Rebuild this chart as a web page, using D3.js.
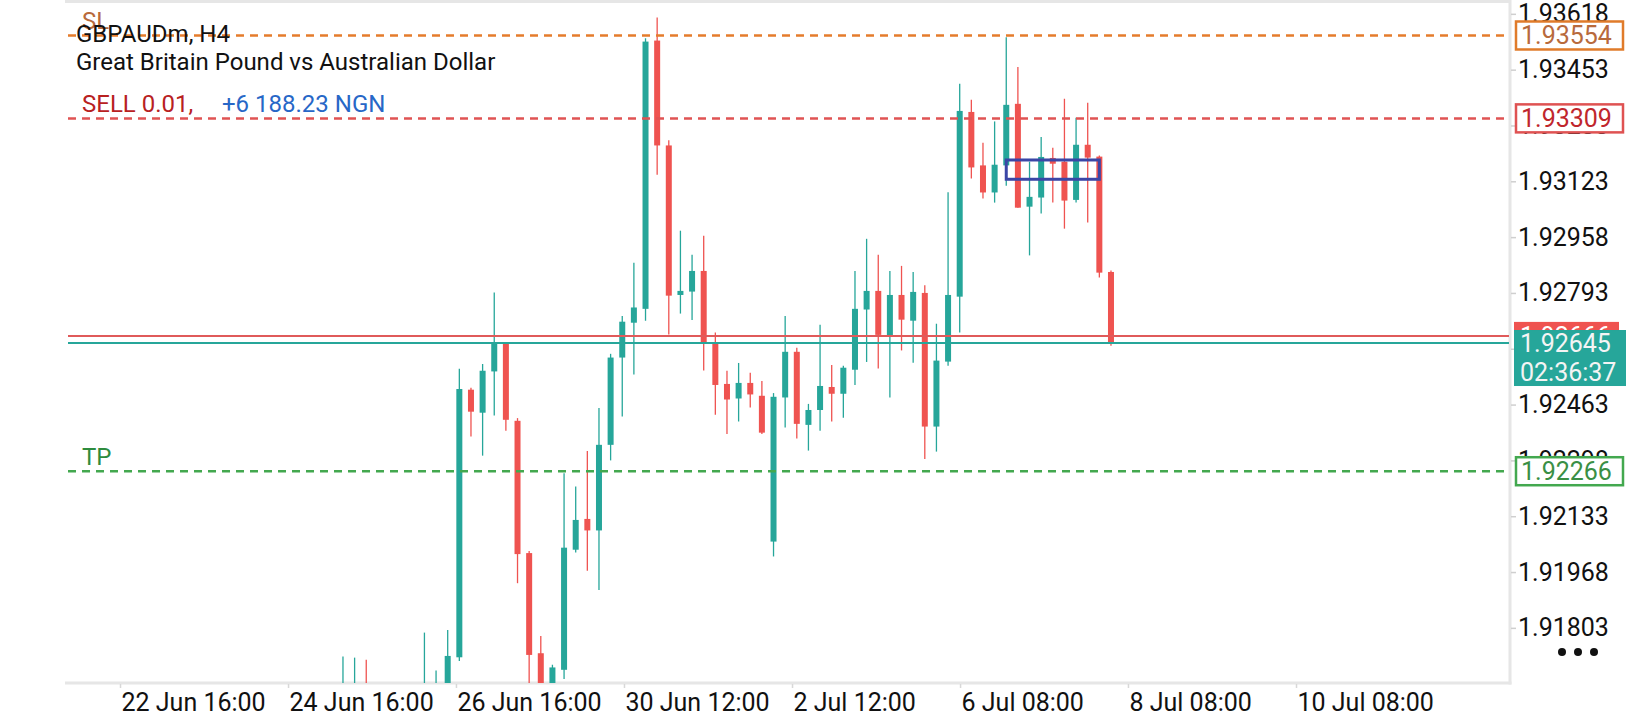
<!DOCTYPE html>
<html><head><meta charset="utf-8">
<script src="https://cdnjs.cloudflare.com/ajax/libs/d3/7.8.5/d3.min.js"></script>
<style>html,body{margin:0;padding:0;background:#fff;}svg{display:block;font-family:Roboto,"Noto Sans",sans-serif;}</style>
</head><body>
<svg id="chart" width="1640" height="720"></svg>
<script>
// ---- data (H4 bars, index = bar number from first visible bar; null = bar fully below view) ----
const barOpen  = [1.91520,1.91560,1.91610,null,null,null,null,1.91450,1.91560,1.91580,
  1.91716,1.92507,1.92439,1.92561,1.92643,1.92415,1.92024,1.91728,1.91600,1.91679,
  1.92034,1.92125,1.92091,1.92344,1.92602,1.92705,1.92746,1.93539,1.93229,1.92787,
  1.92797,1.92858,1.92643,1.92524,1.92481,1.92527,1.92489,1.92058,1.92484,1.92619,
  1.92403,1.92447,1.92515,1.92495,1.92566,1.92744,1.92799,1.92666,1.92787,1.92711,
  1.92793,1.92398,1.92590,1.92782,1.93328,1.93170,1.93090,1.93170,1.93352,1.93048,
  1.93075,1.93192,1.93181,1.93068,1.93231,1.93196,1.92855];
const barHigh  = [1.91718,1.91715,1.91709,null,null,null,null,1.91789,1.91677,1.91797,
  1.92569,1.92513,1.92583,1.92794,1.92648,1.92423,1.92030,1.91779,1.91694,1.92260,
  1.92221,1.92326,1.92453,1.92613,1.92725,1.92882,1.93546,1.93607,1.93244,1.92977,
  1.92906,1.92962,1.92676,1.92563,1.92586,1.92557,1.92533,1.92497,1.92725,1.92631,
  1.92465,1.92699,1.92580,1.92578,1.92858,1.92953,1.92906,1.92858,1.92873,1.92855,
  1.92816,1.92702,1.93091,1.93411,1.93364,1.93237,1.93300,1.93549,1.93461,1.93181,
  1.93254,1.93222,1.93367,1.93311,1.93355,1.93199,1.92859];
const barLow   = [1.91480,1.91500,1.91490,null,null,null,null,1.91400,1.91500,1.91540,
  1.91705,1.92369,1.92312,1.92431,1.92386,1.91935,1.91600,1.91550,1.91580,1.91652,
  1.92026,1.91972,1.91915,1.92298,1.92428,1.92552,1.92711,1.93142,1.92670,1.92732,
  1.92713,1.92564,1.92433,1.92376,1.92413,1.92454,1.92376,1.92014,1.92395,1.92363,
  1.92327,1.92386,1.92413,1.92424,1.92521,1.92589,1.92570,1.92484,1.92623,1.92587,
  1.92302,1.92324,1.92578,1.92676,1.93131,1.93072,1.93060,1.93110,1.93045,1.92904,
  1.93028,1.93060,1.92983,1.93060,1.93001,1.92839,1.92637];
const barClose = [1.91610,1.91620,1.91540,null,null,null,null,1.91600,1.91620,1.91720,
  1.92509,1.92442,1.92563,1.92643,1.92418,1.92021,1.91723,1.91600,1.91686,1.92040,
  1.92122,1.92091,1.92344,1.92602,1.92708,1.92750,1.93536,1.93229,1.92785,1.92799,
  1.92858,1.92643,1.92521,1.92478,1.92527,1.92493,1.92380,1.92486,1.92619,1.92406,
  1.92447,1.92518,1.92495,1.92572,1.92746,1.92799,1.92669,1.92787,1.92714,1.92796,
  1.92398,1.92593,1.92787,1.93331,1.93164,1.93090,1.93172,1.93349,1.93045,1.93077,
  1.93195,1.93175,1.93066,1.93231,1.93193,1.92853,1.92645];

const yTickValues = [1.93618,1.93453,1.93288,1.93123,1.92958,1.92793,1.92628,1.92463,1.92298,1.92133,1.91968,1.91803];
const xTickLabels = ["22 Jun 16:00","24 Jun 16:00","26 Jun 16:00","30 Jun 12:00","2 Jul 12:00","6 Jul 08:00","8 Jul 08:00","10 Jul 08:00"];
const xTickBars   = [-19.16,-4.72,9.71,24.15,38.59,53.03,67.46,81.90];

const slPrice = 1.93554, entryPrice = 1.93309, tpPrice = 1.92266;
const askPrice = 1.92666, bidPrice = 1.92645, countdown = "02:36:37";
const rectBars = [57, 65], rectPrices = [1.93186, 1.93129];
const titleText = ["GBPAUDm, H4", "Great Britain Pound vs Australian Dollar"];
const orderText = ["SELL 0.01,", "+6 188.23 NGN"];

// ---- layout ----
const L = 68, R = 1510, T = 2, B = 683;
const svg = d3.select("#chart");
const x = d3.scaleLinear().domain([-23.63, 100.29]).range([L, R]);
const y = d3.scaleLinear().domain([1.91640, 1.93653]).range([B, T]);
const UP = "#26a69a", DN = "#ef5350";
const AX = 25;

svg.append("defs").append("clipPath").attr("id","plotclip")
  .append("rect").attr("x",L).attr("y",T).attr("width",R-L).attr("height",B-T);

// border
svg.append("line").attr("x1",L-3).attr("x2",R+1).attr("y1",1.5).attr("y2",1.5).attr("stroke","#e6e6e6").attr("stroke-width",3);
svg.append("line").attr("x1",R).attr("x2",R).attr("y1",0).attr("y2",B+1.5).attr("stroke","#e6e6e6").attr("stroke-width",3);
svg.append("line").attr("x1",L-3).attr("x2",R+1.5).attr("y1",B).attr("y2",B).attr("stroke","#e6e6e6").attr("stroke-width",3);

const plot = svg.append("g").attr("clip-path","url(#plotclip)");

// candles
const bars = d3.range(barOpen.length).filter(i => barOpen[i] !== null).map(i => ({
  i, o: barOpen[i], h: barHigh[i], l: barLow[i], c: barClose[i]
}));
const cg = plot.selectAll("g.candle").data(bars).join("g")
  .attr("fill", d => d.c >= d.o ? UP : DN).attr("stroke", d => d.c >= d.o ? UP : DN);
cg.append("line").attr("x1", d => x(d.i)).attr("x2", d => x(d.i))
  .attr("y1", d => y(d.h)).attr("y2", d => y(d.l)).attr("stroke-width", 1.3);
cg.append("rect").attr("stroke","none")
  .attr("x", d => x(d.i) - 3).attr("width", 6)
  .attr("y", d => y(Math.max(d.o, d.c)))
  .attr("height", d => Math.max(1.5, Math.abs(y(d.o) - y(d.c))));

// rectangle object
plot.append("rect").attr("x", x(rectBars[0])).attr("width", x(rectBars[1]) - x(rectBars[0]))
  .attr("y", y(rectPrices[0])).attr("height", y(rectPrices[1]) - y(rectPrices[0]))
  .attr("fill","none").attr("stroke","#3b46a6").attr("stroke-width",3);

// horizontal level lines
const hl = (p, col, dash, w) => plot.append("line").attr("x1", L).attr("x2", R-1)
  .attr("y1", y(p)).attr("y2", y(p)).attr("stroke", col).attr("stroke-width", w)
  .attr("stroke-dasharray", dash);
hl(slPrice, "#e57c2c", "8,6", 2.5);
hl(entryPrice, "#e05353", "8,6", 2.5);
hl(tpPrice, "#43a84f", "8,6", 2.5);
hl(askPrice, "#e05a5a", null, 2);
hl(bidPrice, UP, null, 2);

// texts on chart
const txt = (s, tx, ty, col, size) => svg.append("text").attr("x", tx).attr("y", ty)
  .attr("fill", col).attr("font-size", size).text(s);
txt("SL", 82, 29, "#b86a3c", 24);
txt(titleText[0], 76, 42, "#111", 24);
txt(titleText[1], 76, 70, "#111", 24);
txt(orderText[0], 82, 112, "#b8211f", 24);
txt(orderText[1], 222, 112, "#2767c7", 24);
txt("TP", 82, 465, "#2e8b3e", 24);

// y axis
const yAxis = svg.append("g").attr("transform", `translate(${R+1},0)`)
  .call(d3.axisRight(y).tickValues(yTickValues).tickFormat(d3.format(".5f")).tickSize(5).tickPadding(2));
yAxis.select(".domain").remove();
yAxis.selectAll(".tick line").attr("stroke","#cfcfcf").attr("stroke-width",1.5);
yAxis.selectAll(".tick text").attr("font-size", AX).attr("fill","#111").attr("font-family","Roboto");

// x axis
const xAxis = svg.append("g").attr("transform", `translate(0,${B+1})`)
  .call(d3.axisBottom(x).tickValues(xTickBars).tickFormat((d,i) => xTickLabels[i]).tickSize(4).tickPadding(5));
xAxis.select(".domain").remove();
xAxis.selectAll(".tick line").attr("stroke","#d8d8d8").attr("stroke-width",1.5);
xAxis.selectAll(".tick text").attr("font-size", AX).attr("fill","#111").attr("text-anchor","start")
  .attr("x", 1).attr("font-family","Roboto");

// right price labels
const boxLabel = (p, border, col) => {
  svg.append("rect").attr("x", 1516).attr("y", y(p) - 14).attr("width", 107).attr("height", 28)
    .attr("fill","#fff").attr("stroke", border).attr("stroke-width", 2.5);
  svg.append("text").attr("x", 1521).attr("y", y(p)).attr("dy","0.35em").attr("font-size",AX)
    .attr("fill", col).text(d3.format(".5f")(p));
};
boxLabel(slPrice, "#e07b2a", "#b86a3c");
boxLabel(entryPrice, "#df5252", "#c0262d");
boxLabel(tpPrice, "#43a84f", "#3a8f45");

svg.append("rect").attr("x",1514).attr("y", y(askPrice)-14).attr("width",105).attr("height",28).attr("fill", DN);
svg.append("text").attr("x",1520).attr("y", y(askPrice)).attr("dy","0.35em").attr("font-size",AX).attr("fill","#fff")
  .text(d3.format(".5f")(askPrice));
svg.append("rect").attr("x",1514).attr("y", y(bidPrice)-13).attr("width",112).attr("height",56).attr("fill", UP);
svg.append("text").attr("x",1520).attr("y", y(bidPrice)).attr("dy","0.35em").attr("font-size",AX).attr("fill","#f4f4f4")
  .text(d3.format(".5f")(bidPrice));
svg.append("text").attr("x",1520).attr("y", y(bidPrice)+29).attr("dy","0.35em").attr("font-size",AX).attr("fill","#f4f4f4")
  .text(countdown);

// menu dots
svg.selectAll("circle.dot").data([0,1,2]).join("circle")
  .attr("cx", d => 1562 + d*16).attr("cy", 652).attr("r", 4).attr("fill","#111");
</script>
</body></html>
